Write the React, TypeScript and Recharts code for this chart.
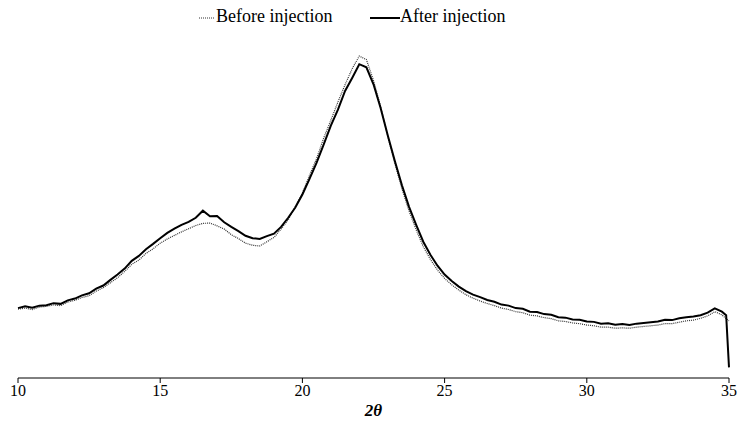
import { LineChart, Line, XAxis, YAxis } from 'recharts';

const twoTheta = [
  10, 10.25, 10.5, 10.75, 11, 11.25, 11.5, 11.75, 12, 12.25, 12.5, 12.75,
  13, 13.25, 13.5, 13.75, 14, 14.25, 14.5, 14.75, 15, 15.25, 15.5, 15.75,
  16, 16.25, 16.5, 16.75, 17, 17.25, 17.5, 17.75, 18, 18.25, 18.5, 18.75,
  19, 19.25, 19.5, 19.75, 20, 20.25, 20.5, 20.75, 21, 21.25, 21.5, 21.75,
  22, 22.25, 22.5, 22.75, 23, 23.25, 23.5, 23.75, 24, 24.25, 24.5, 24.75,
  25, 25.25, 25.5, 25.75, 26, 26.25, 26.5, 26.75, 27, 27.25, 27.5, 27.75,
  28, 28.25, 28.5, 28.75, 29, 29.25, 29.5, 29.75, 30, 30.25, 30.5, 30.75,
  31, 31.25, 31.5, 31.75, 32, 32.25, 32.5, 32.75, 33, 33.25, 33.5, 33.75,
  34, 34.25, 34.5, 34.75, 34.9, 35,
];

const beforeInjection = [
  19.5, 19.8, 19.4, 20.1, 20.3, 20.7, 20.5, 21.5, 22.0, 22.8, 23.3, 24.6,
  25.6, 27.0, 28.4, 30.2, 32.2, 33.4, 35.3, 36.6, 38.2, 39.4, 40.4, 41.4,
  42.3, 43.2, 43.8, 43.9, 43.1, 42.2, 40.6, 39.5, 38.2, 37.6, 37.4, 38.6,
  39.8, 42.2, 44.8, 48.5, 52.4, 57.4, 62.2, 68.0, 73.0, 78.2, 83.1, 87.6,
  91.2, 90.2, 84.3, 76.9, 68.6, 60.8, 53.6, 47.3, 42.0, 37.2, 33.6, 30.6,
  28.2, 26.4, 24.9, 23.6, 22.6, 21.8, 21.1, 20.5, 19.8, 19.4, 18.8, 18.5,
  17.8, 17.6, 17.1, 16.8, 16.2, 16.0, 15.6, 15.4, 15.0, 14.8, 14.4, 14.4,
  14.1, 14.2, 14.1, 14.4, 14.6, 14.8, 15.0, 15.4, 15.4, 15.8, 16.2, 16.4,
  16.9, 17.6, 18.8, 17.9, 16.8, 16.2,
];

const afterInjection = [
  19.8, 20.3, 19.9, 20.5, 20.6, 21.2, 21.0, 22.0, 22.5, 23.4, 24.0, 25.3,
  26.2, 27.8, 29.3, 31.0, 33.2, 34.6, 36.5, 38.0, 39.6, 41.1, 42.3, 43.4,
  44.2, 45.4, 47.4, 45.8, 45.9, 44.1, 42.8, 41.6, 40.3, 39.6, 39.4, 40.2,
  40.9, 42.8, 45.4, 48.3, 52.0, 56.4, 61.0, 66.2, 71.5, 76.0, 81.3, 85.0,
  88.9, 88.0, 83.2, 76.5, 68.8, 61.5, 54.6, 48.5, 43.4, 38.6, 34.9, 31.8,
  29.3, 27.5, 25.9, 24.6, 23.6, 22.9, 22.1, 21.6, 20.8, 20.5, 19.8, 19.6,
  18.8, 18.7, 18.1, 17.9, 17.2, 17.1, 16.6, 16.5, 16.0, 15.9, 15.4, 15.5,
  15.1, 15.3, 15.0, 15.4, 15.6, 15.8, 16.0, 16.5, 16.4, 16.9, 17.2, 17.4,
  17.8, 18.5, 19.7, 18.8, 17.8, 3.0,
];

const xTicks = [10, 15, 20, 25, 30, 35];

const data = twoTheta.map((x, i) => ({
  x,
  before: beforeInjection[i],
  after: afterInjection[i],
}));

const font = "'Liberation Serif', 'Times New Roman', serif";

export default function App() {
  return (
    <div style={{ position: 'absolute', left: 0, top: 0, width: 739, height: 421, background: '#fff', fontFamily: font }}>
      <div style={{ position: 'absolute', top: 6, left: 0, width: 739, height: 22, fontSize: 18, color: '#000', fontFamily: font }}>
        <svg style={{ position: 'absolute', left: 199, top: 0 }} width={16} height={22}>
          <line x1={0} y1={12} x2={16} y2={12} stroke="#333" strokeWidth={1} strokeDasharray="1 1" />
        </svg>
        <span style={{ position: 'absolute', left: 216, top: 0 }}>Before injection</span>
        <svg style={{ position: 'absolute', left: 370, top: 0 }} width={30} height={22}>
          <line x1={0} y1={12} x2={30} y2={12} stroke="#000" strokeWidth={2} />
        </svg>
        <span style={{ position: 'absolute', left: 400, top: 0 }}>After injection</span>
      </div>
      <LineChart width={739} height={421} data={data} margin={{ top: 25, right: 10, bottom: 13, left: 18 }}>
        <XAxis
          dataKey="x"
          type="number"
          domain={[10, 35]}
          ticks={xTicks}
          height={30}
          tickSize={5}
          stroke="#000"
          tick={{ fill: '#000', fontSize: 16, fontFamily: font }}
          label={{ value: '2θ', position: 'insideBottom', offset: -8, style: { fontFamily: font, fontSize: 17, fontWeight: 'bold', fontStyle: 'italic', fill: '#000' } }}
        />
        <YAxis width={0} domain={[0, 100]} tick={false} tickLine={false} stroke="#000" />
        <Line type="linear" dataKey="before" stroke="#333" strokeWidth={1.2} strokeDasharray="1 1" dot={false} isAnimationActive={false} />
        <Line type="linear" dataKey="after" stroke="#000" strokeWidth={2} dot={false} isAnimationActive={false} />
      </LineChart>
    </div>
  );
}
